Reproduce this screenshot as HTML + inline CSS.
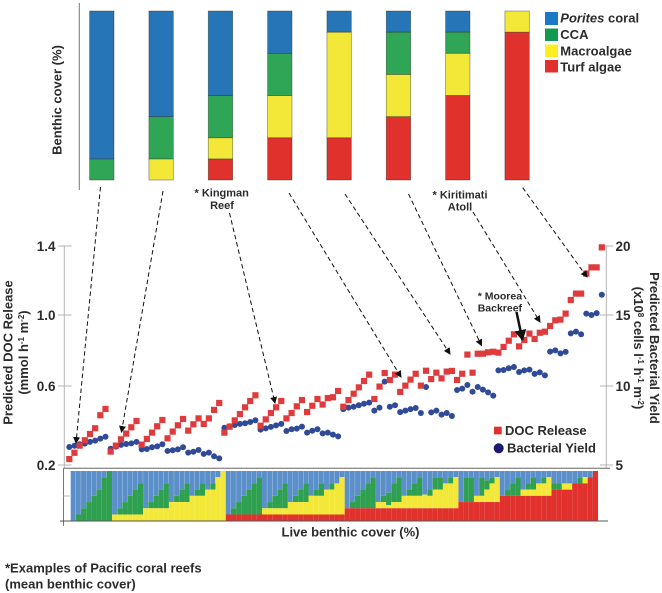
<!DOCTYPE html>
<html lang="en">
<head>
<meta charset="utf-8">
<title>Predicted DOC release and bacterial yield across benthic cover</title>
<style>
html,body{margin:0;padding:0;background:#fff;width:662px;height:593px;overflow:hidden}
svg{display:block}
text{font-family:"Liberation Sans",sans-serif;font-weight:bold;fill:#2b2b2b}
</style>
</head>
<body>
<svg id="chart" width="662" height="593" viewBox="0 0 662 593" xmlns="http://www.w3.org/2000/svg">
  <defs>
    <marker id="arrow-head" markerUnits="userSpaceOnUse" markerWidth="8" markerHeight="8" refX="6" refY="3.5" orient="auto">
      <path d="M0,0 L7,3.5 L0,7 Z" fill="#111"/>
    </marker>
    <marker id="arrow-head-big" markerUnits="userSpaceOnUse" markerWidth="14" markerHeight="14" refX="10" refY="6" orient="auto">
      <path d="M0,0 L11,6 L0,12 Z" fill="#111"/>
    </marker>
  </defs>

  <g id="top-bars"></g>
  <line x1="79.3" y1="3" x2="79.3" y2="190" stroke="#777" stroke-width="1"/>
  <text transform="translate(61.5,100) rotate(-90)" text-anchor="middle" font-size="13">Benthic cover (%)</text>

  <g>
    <rect x="545" y="12" width="13" height="13" fill="#1b78c4"/>
    <rect x="545" y="28.500" width="13" height="12.500" fill="#109a50"/>
    <rect x="545" y="44.500" width="13" height="12.500" fill="#fdee21"/>
    <rect x="545" y="60" width="13" height="12.500" fill="#e0312d"/>
    <text x="560.300" y="22.500" font-size="13"><tspan font-style="italic">Porites</tspan> coral</text>
    <text x="560.300" y="39" font-size="13">CCA</text>
    <text x="560.300" y="55.500" font-size="13">Macroalgae</text>
    <text x="560.300" y="71.500" font-size="13">Turf algae</text>
  </g>

  <g id="axes"></g>

  <text transform="translate(12.500,352.500) rotate(-90)" text-anchor="middle" font-size="13">Predicted DOC Release</text>
  <text transform="translate(28,352.500) rotate(-90)" text-anchor="middle" font-size="13">(mmol h<tspan font-size="8" dy="-4">-1</tspan><tspan dy="4"> m</tspan><tspan font-size="8" dy="-4">-2</tspan><tspan dy="4">)</tspan></text>
  <text transform="translate(650,348) rotate(90)" text-anchor="middle" font-size="13">Predicted Bacterial Yield</text>
  <text transform="translate(634,348) rotate(90)" text-anchor="middle" font-size="13">(x10<tspan font-size="8" dy="-4">8</tspan><tspan dy="4"> cells l</tspan><tspan font-size="8" dy="-4">-1</tspan><tspan dy="4"> h</tspan><tspan font-size="8" dy="-4">-1</tspan><tspan dy="4"> m</tspan><tspan font-size="8" dy="-4">-2</tspan><tspan dy="4">)</tspan></text>

  <g id="stack-strip"></g>
  <g fill="none">
    <line x1="63.500" y1="468.300" x2="610" y2="468.300" stroke="#666" stroke-width="1"/>
    <line x1="63.500" y1="468.300" x2="63.500" y2="526" stroke="#777" stroke-width="1"/>
    <line x1="60" y1="521" x2="608" y2="521" stroke="#555" stroke-width="1"/>
    <line x1="63.500" y1="496" x2="70" y2="496" stroke="#bbb" stroke-width="1"/>
  </g>
  <text x="350.500" y="536.700" text-anchor="middle" font-size="13">Live benthic cover (%)</text>

  <g id="doc-dots"></g>
  <g id="doc-squares"></g>

  <g stroke="#111" stroke-width="1" stroke-dasharray="4.500 3" fill="none">
    <line x1="100.500" y1="187" x2="76" y2="443" marker-end="url(#arrow-head)"/>
    <line x1="163" y1="191" x2="121.500" y2="432" marker-end="url(#arrow-head)"/>
    <line x1="229.500" y1="213" x2="275" y2="403" marker-end="url(#arrow-head)"/>
    <line x1="289" y1="193" x2="401" y2="377" marker-end="url(#arrow-head)"/>
    <line x1="345" y1="194" x2="450" y2="354" marker-end="url(#arrow-head)"/>
    <line x1="408.500" y1="194" x2="481.500" y2="345.500" marker-end="url(#arrow-head)"/>
    <line x1="473" y1="212" x2="540" y2="322" marker-end="url(#arrow-head)"/>
    <line x1="522.700" y1="187.700" x2="587" y2="277" marker-end="url(#arrow-head)"/>
  </g>
  <line x1="516.500" y1="312" x2="522.500" y2="340" stroke="#111" stroke-width="2.500" marker-end="url(#arrow-head-big)"/>

  <text x="221.700" y="196.700" text-anchor="middle" font-size="11">* Kingman</text>
  <text x="222" y="209" text-anchor="middle" font-size="11">Reef</text>
  <text x="460" y="198.300" text-anchor="middle" font-size="11">* Kiritimati</text>
  <text x="460" y="210.700" text-anchor="middle" font-size="11">Atoll</text>
  <text x="477.700" y="299.300" font-size="10.500">* Moorea</text>
  <text x="477.700" y="311.700" font-size="10.500">Backreef</text>

  <g>
    <rect x="494" y="426.700" width="7.700" height="7.700" fill="#e0312d"/>
    <text x="505" y="435" font-size="13">DOC Release</text>
    <circle cx="498.700" cy="448.300" r="5" fill="#1c1a6e"/>
    <text x="507" y="452.300" font-size="13">Bacterial Yield</text>
  </g>

  <text x="5" y="572.700" font-size="13">*Examples of Pacific coral reefs</text>
  <text x="5" y="588.300" font-size="13">(mean benthic cover)</text>
</svg>

<script>
// Left and right axis ticks
const docTicks = [0.2, 0.6, 1.0, 1.4];
const docTickLabels = ['0.2', '0.6', '1.0', '1.4'];
const yieldTicks = [5, 10, 15, 20];
const yieldTickLabels = ['5', '10', '15', '20'];

// Scatter series: one value per modelled reef, in x order
const docRelease = [
  .230,.262,.298,.325,.357,.386,.452,.484,.268,.298,
  .330,.359,.391,.423,.303,.332,.364,.396,.428,.335,
  .369,.401,.433,.374,.406,.436,.408,.436,.479,.514,
  .364,.394,.426,.458,.492,.524,.553,.399,.431,.463,
  .492,.524,.436,.463,.497,.529,.468,.500,.534,.506,
  .539,.543,.575,.495,.529,.561,.593,.628,.664,.534,
  .597,.673,.634,.664,.570,.602,.636,.669,.602,.686,
  .639,.675,.643,.681,.685,.634,.669,.777,.675,.782,
  .782,.790,.793,.788,.820,.855,.891,.823,.859,.895,
  .865,.900,.906,.938,.970,.974,1.008,1.087,1.124,1.124,
  1.240,1.276,1.276,1.392
];
const bacterialYield = [
  6.14,6.22,6.31,6.35,6.46,6.54,6.67,6.79,6.03,6.16,
  6.27,6.33,6.37,6.46,5.99,6.01,6.12,6.18,6.31,5.89,
  5.93,5.99,6.12,5.78,5.84,5.95,5.70,5.78,5.55,5.42,
  7.36,7.45,7.53,7.60,7.64,7.72,7.83,7.24,7.32,7.41,
  7.51,7.60,7.15,7.26,7.30,7.43,7.05,7.17,7.26,7.00,
  7.05,6.92,6.81,8.54,8.63,8.69,8.78,8.88,8.95,8.44,
  8.63,10.31,8.69,8.78,8.35,8.44,8.54,8.61,8.29,9.94,
  8.33,8.44,8.19,8.29,8.10,9.75,9.83,10.07,9.64,9.94,
  9.77,9.60,9.39,11.10,11.13,11.25,11.34,10.99,11.10,11.15,
  10.85,10.96,10.75,12.42,12.51,12.30,12.40,13.71,13.83,13.64,
  15.10,15.00,15.14,16.47
];

// Bottom strip: benthic cover in eighths of total, one value per column
const stripTurf = [
  0,0,0,0,0,0,0,0,0,0,0,0,0,0,0,0,0,0,0,0,0,0,0,0,0,0,0,0,0,0,
  1,1,1,1,1,1,1,1,1,1,1,1,1,1,1,1,1,1,1,1,1,1,1,
  2,2,2,2,2,2,2,2,2,2,2,2,2,2,2,2,2,2,2,2,2,2,
  3,3,3,3,3,3,3,3,
  4,4,4,4,4,4,4,4,4,4,
  5,5,5,5,
  6,6,6,
  7,8
];
const stripMacro = [
  0,0,0,0,0,0,0,0, 1,1,1,1,1,1, 2,2,2,2,2, 3,3,3,3, 4,4,4, 5,5, 7, 8,
  0,0,0,0,0,0,0, 1,1,1,1,1, 2,2,2,2, 3,3,3, 4,4, 5, 6,
  0,0,0,0,0,0, 1,1,.5,1,1, 2,2,2,2, 2.2,2, 3,3, 4,4, 5,
  0,0,0, 1,1, 2, 3, 4,
  0,0,0,0, 1,1,1, 2,2, 3,
  0,0, 1,1,
  0,0, 1,
  0,0
];
const stripCca = [
  0,1,2,3,4,5,7,8, 0,1,2,3,4,5, 0,1,2,3,4, 0,1,2,3, 0,1,2, 0,1, 0, 0,
  0,1,2,3,4,5,6, 0,1,2,3,4, 0,1,2,3, 0,1,2, 0,1, 0, 0,
  0,1,2,3,4,5, 0,1,2,3,4, 0,1,2,3, 0,1, 2,2, 0,1, 0,
  0,4,4, 0,3, 1.5, 1, 0,
  0,1,2,3, 0,1,2, 0,1, 0,
  1,1, 0,0,
  0,1, 0,
  0,0
];

// Top panel: eight example reefs, cover in eighths of total
const topTurf = [0, 0, 1, 2, 2, 3, 4, 7];
const topMacro = [0, 1, 1, 2, 5, 2, 2, 1];
const topCca = [1, 2, 2, 2, 0, 2, 1, 0];
const topCoral = [7, 5, 4, 2, 1, 1, 1, 0];

const SVG_NS = 'http://www.w3.org/2000/svg';
const COLORS = { coral: '#2675b7', cca: '#2fa655', macro: '#f3e838', turf: '#e0312d' };
const STRIP_CORAL = '#5b8fca';

function piecewise(domain, range) {
  return function (v) {
    let k = 0;
    while (k < domain.length - 2 && v > domain[k + 1]) k++;
    const t = (v - domain[k]) / (domain[k + 1] - domain[k]);
    return range[k] + t * (range[k + 1] - range[k]);
  };
}
const axisPixels = [465, 386, 315, 246];
const yDoc = piecewise(docTicks, axisPixels);
const yYield = piecewise(yieldTicks, axisPixels);
const xPoint = function (i) { return 69.3 + 5.17 * i; };
const xStrip = function (i) { return 70.7 + 5.17 * i; };
const stripY = function (eighths) { return 520.7 - eighths * (49.7 / 8); };
const xTop = function (i) { return 89.6 + 59.33 * i; };
const topY = function (eighths) { return 180 - eighths * (169 / 8); };

function make(tag, attrs, parent) {
  const el = document.createElementNS(SVG_NS, tag);
  for (const k in attrs) el.setAttribute(k, attrs[k]);
  parent.appendChild(el);
  return el;
}

// Top panel bars
const topGroup = document.getElementById('top-bars');
topTurf.forEach(function (t, i) {
  const parts = [
    ['turf', t, COLORS.turf],
    ['macroalgae', topMacro[i], COLORS.macro],
    ['cca', topCca[i], COLORS.cca],
    ['coral', topCoral[i], COLORS.coral]
  ];
  let base = 0;
  parts.forEach(function (p) {
    if (p[1] <= 0) return;
    const r = make('rect', {
      x: xTop(i), y: topY(base + p[1]), width: 24.4, height: topY(base) - topY(base + p[1]),
      fill: p[2], stroke: 'rgba(40,50,40,.55)', 'stroke-width': 0.7
    }, topGroup);
    
    
    base += p[1];
  });
});

// Axes
const axesGroup = document.getElementById('axes');
const leftAxis = make('line', { x1: 64.3, y1: 246, x2: 64.3, y2: 468, stroke: '#b5b5b5', 'stroke-width': 1 }, axesGroup);


const rightAxis = make('line', { x1: 606.3, y1: 246, x2: 606.3, y2: 468, stroke: '#b5b5b5', 'stroke-width': 1 }, axesGroup);



docTicks.forEach(function (v, i) {
  const y = yDoc(v);
  const tick = make('line', { x1: 58, y1: y, x2: 71.5, y2: y, stroke: '#b5b5b5', 'stroke-width': 1 }, axesGroup);
  
  
  const label = make('text', { x: 55.5, y: y + 5, 'text-anchor': 'end', 'font-size': 13.5 }, axesGroup);
  label.textContent = docTickLabels[i];
  
  
});
yieldTicks.forEach(function (v, i) {
  const y = yYield(v);
  const tick = make('line', { x1: 600, y1: y, x2: 613.3, y2: y, stroke: '#b5b5b5', 'stroke-width': 1 }, axesGroup);
  
  
  const label = make('text', { x: 615.5, y: y + 5, 'font-size': 13.5 }, axesGroup);
  label.textContent = yieldTickLabels[i];
  
  
});

// Bottom strip
const stripGroup = document.getElementById('stack-strip');
stripTurf.forEach(function (t, i) {
  const m = stripMacro[i];
  const c = stripCca[i];
  const x = xStrip(i);
  const coralRect = make('rect', { x: x, y: stripY(8), width: 4.95, height: stripY(t + m + c) - stripY(8), fill: STRIP_CORAL }, stripGroup);
  
  
  if (c > 0) {
    const ccaRect = make('rect', { x: x, y: stripY(t + m + c), width: 5.17, height: stripY(t + m) - stripY(t + m + c), fill: '#2fa04f' }, stripGroup);
    
    
  }
  if (m > 0) {
    const macroRect = make('rect', { x: x, y: stripY(t + m), width: 5.17, height: stripY(t) - stripY(t + m), fill: COLORS.macro }, stripGroup);
    
    
  }
  if (t > 0) {
    const turfRect = make('rect', { x: x, y: stripY(t), width: 5.17, height: stripY(0) - stripY(t), fill: COLORS.turf }, stripGroup);
    
    
  }
});

// Scatter series
const dotGroup = document.getElementById('doc-dots');
bacterialYield.forEach(function (v, i) {
  const dot = make('circle', { cx: xPoint(i), cy: yYield(v), r: 3, fill: '#2f4a96' }, dotGroup);
  
  
});
const squareGroup = document.getElementById('doc-squares');
docRelease.forEach(function (v, i) {
  const sq = make('rect', { x: xPoint(i) - 3.1, y: yDoc(v) - 3.1, width: 6.2, height: 6.2, fill: '#df3a3c' }, squareGroup);
  
  
});
</script>
</body>
</html>
